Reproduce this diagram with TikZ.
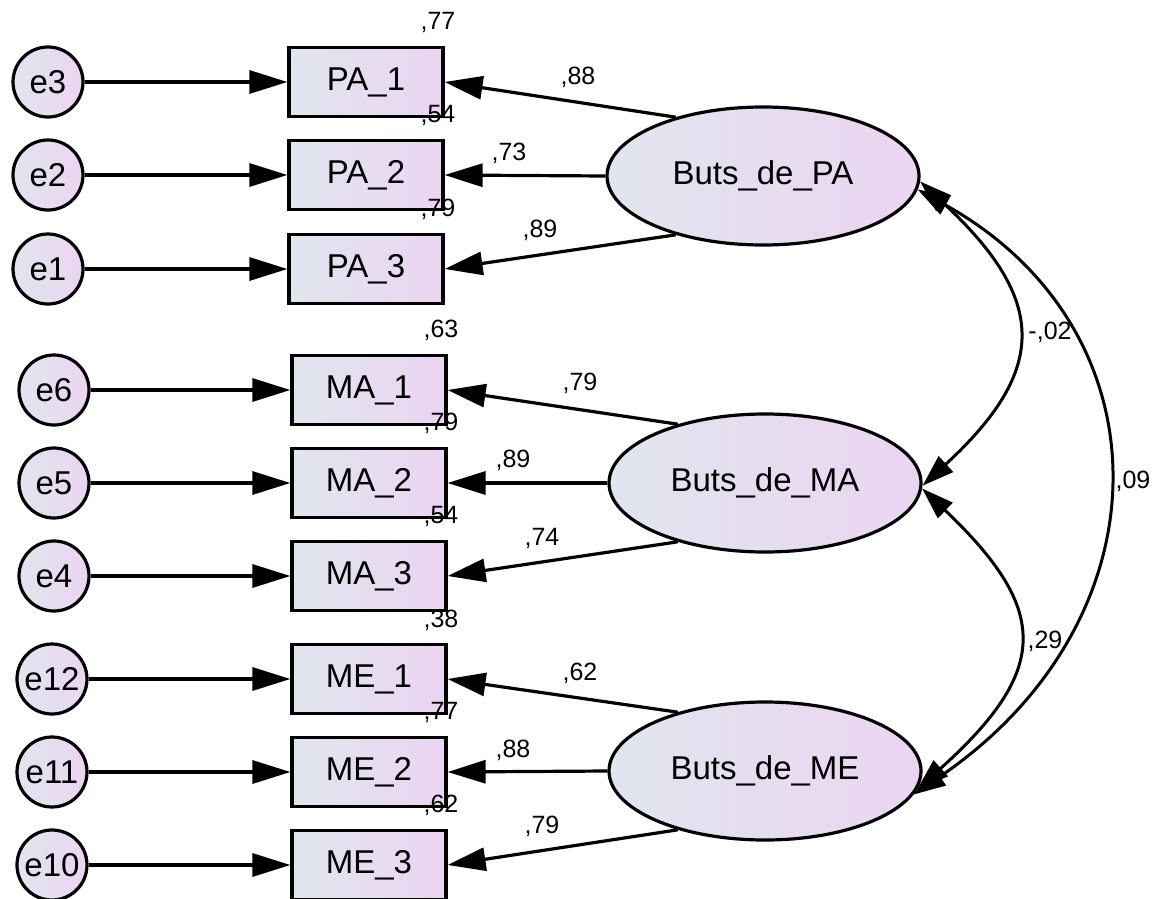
\documentclass[tikz,border=0pt]{standalone}
\usepackage{fontspec}
\setmainfont{Liberation Sans}
\usetikzlibrary{arrows.meta,shapes.geometric}
\definecolor{gl}{RGB}{224,230,238}
\definecolor{gr}{RGB}{236,212,242}
\begin{document}
\begin{tikzpicture}[x=1pt,y=-1pt,
  base/.style={draw, line width=3.2pt, left color=gl, right color=gr, inner sep=0pt, font=\fontsize{33}{39}\selectfont},
  err/.style={base, circle, minimum size=70pt},
  obs/.style={base, rectangle, minimum width=154pt, minimum height=69pt},
  lat/.style={base, ellipse, minimum width=312pt, minimum height=138pt},
  lab/.style={inner sep=0pt, font=\fontsize{25}{30}\selectfont},
  reg/.style={line width=3.2pt, -{Triangle[length=38pt,width=23pt]}},
  cov/.style={line width=3pt, {Triangle[length=32pt,width=21pt]}-{Triangle[length=32pt,width=21pt]}}
]
\useasboundingbox (0,0) rectangle (1156,899);
% error terms
\node[err] (e3) at (48,82) {e3};
\node[err] (e2) at (48,175) {e2};
\node[err] (e1) at (48,269) {e1};
\node[err] (e6) at (54,390) {e6};
\node[err] (e5) at (54,483) {e5};
\node[err] (e4) at (54,576) {e4};
\node[err] (e12) at (52,679) {e12};
\node[err] (e11) at (52,772) {e11};
\node[err] (e10) at (52,865) {e10};
% observed
\node[obs] (pa1) at (366,82) {PA\_1};
\node[obs] (pa2) at (366,175) {PA\_2};
\node[obs] (pa3) at (366,269) {PA\_3};
\node[obs] (ma1) at (369,390) {MA\_1};
\node[obs] (ma2) at (369,483) {MA\_2};
\node[obs] (ma3) at (369,576) {MA\_3};
\node[obs] (me1) at (369,679) {ME\_1};
\node[obs] (me2) at (369,772) {ME\_2};
\node[obs] (me3) at (369,865) {ME\_3};
% latent
\node[lat] (bpa) at (763,176) {Buts\_de\_PA};
\node[lat] (bma) at (765,483) {Buts\_de\_MA};
\node[lat] (bme) at (765,771) {Buts\_de\_ME};
% error arrows
\draw[reg] (e3) -- (pa1);
\draw[reg] (e2) -- (pa2);
\draw[reg] (e1) -- (pa3);
\draw[reg] (e6) -- (ma1);
\draw[reg] (e5) -- (ma2);
\draw[reg] (e4) -- (ma3);
\draw[reg] (e12) -- (me1);
\draw[reg] (e11) -- (me2);
\draw[reg] (e10) -- (me3);
% loadings
\draw[reg] (bpa.146) -- (pa1.east);
\draw[reg] (bpa.west) -- (pa2.east);
\draw[reg] (bpa.214) -- (pa3.east);
\draw[reg] (bma.146) -- (ma1.east);
\draw[reg] (bma.west) -- (ma2.east);
\draw[reg] (bma.214) -- (ma3.east);
\draw[reg] (bme.146) -- (me1.east);
\draw[reg] (bme.west) -- (me2.east);
\draw[reg] (bme.214) -- (me3.east);
% covariances
\draw[cov] (bpa.-2) .. controls (1048,300) and (1048,370) .. (bma.-1);
\draw[cov] (bpa.-5) .. controls (1170,330) and (1170,620) .. (bme.-9);
\draw[cov] (bma.-2) .. controls (1050,610) and (1050,670) .. (bme.-7);
% labels: squared multiple correlations
\node[lab] (r1) at (438,22) {,77};
\node[lab] (r2) at (438,115) {,54};
\node[lab] (r3) at (438,209) {,79};
\node[lab] (r4) at (441,330) {,63};
\node[lab] (r5) at (441,423) {,79};
\node[lab] (r6) at (441,516) {,54};
\node[lab] (r7) at (441,620) {,38};
\node[lab] (r8) at (441,712) {,77};
\node[lab] (r9) at (441,805) {,62};
% loadings labels
\node[lab] (l1) at (578,77) {,88};
\node[lab] (l2) at (509,153) {,73};
\node[lab] (l3) at (540,230) {,89};
\node[lab] (l4) at (580,383) {,79};
\node[lab] (l5) at (513,460) {,89};
\node[lab] (l6) at (542,538) {,74};
\node[lab] (l7) at (580,673) {,62};
\node[lab] (l8) at (513,750) {,88};
\node[lab] (l9) at (542,826) {,79};
% covariance labels
\node[lab] (c1) at (1050,332) {-,02};
\node[lab] (c2) at (1133,481) {,09};
\node[lab] (c3) at (1045,641) {,29};
\end{tikzpicture}
\end{document}
